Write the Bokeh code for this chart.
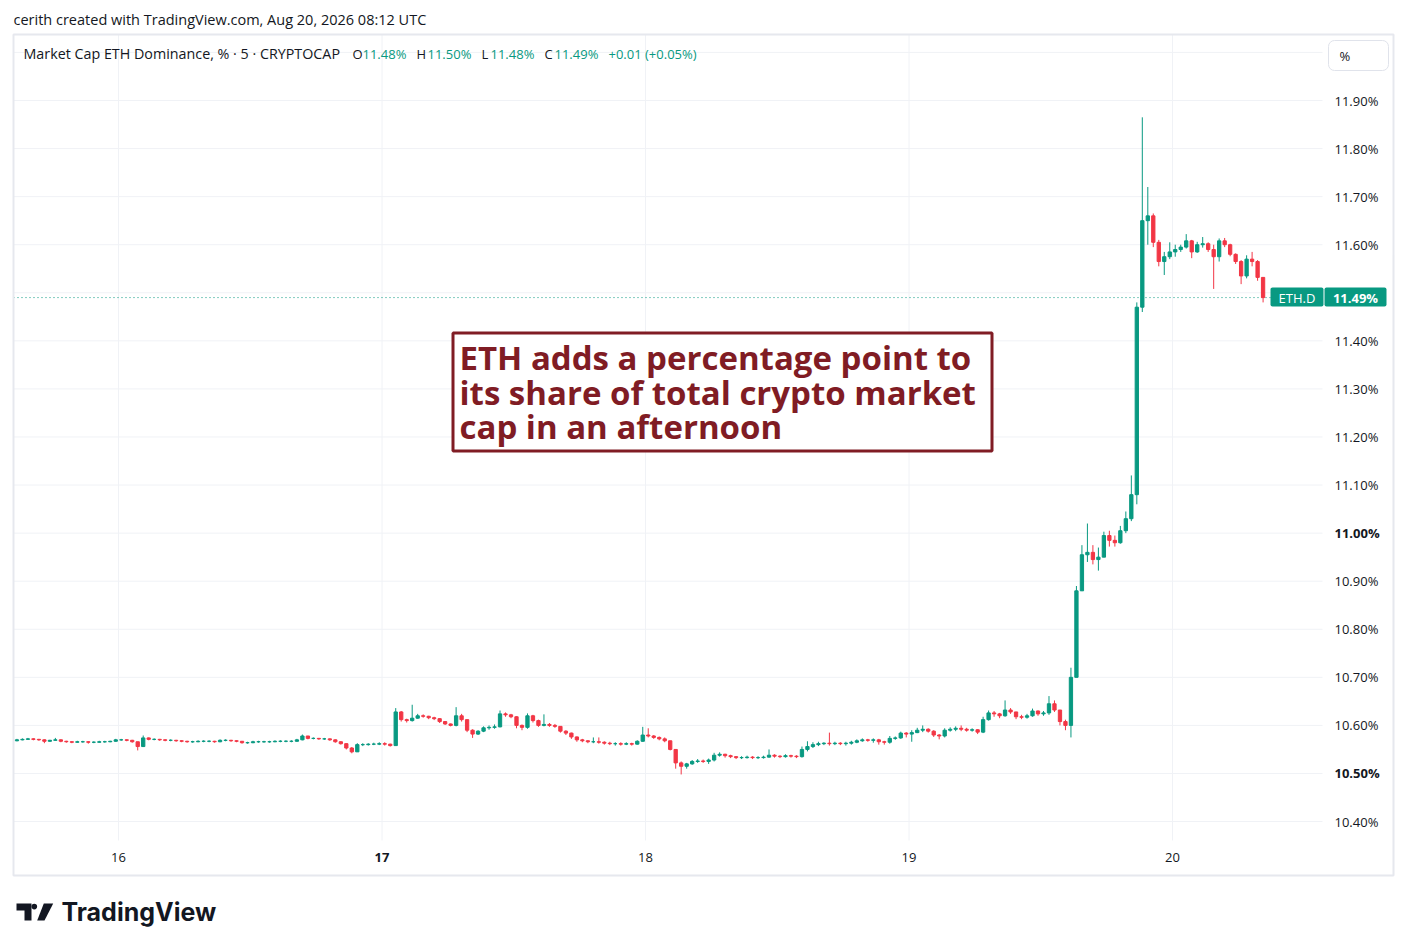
from bokeh.plotting import figure
from bokeh.models import (FixedTicker, Label, BoxAnnotation, PolyAnnotation, LinearAxis,
                          ColumnDataSource, PrintfTickFormatter, Range1d)
from bokeh.embed import file_html
from bokeh.resources import INLINE

# ---------------- data (30-minute candles) ----------------
START_DAY = 15          # August 15
START_HOUR = 14.5       # first candle 14:30 UTC
SLOT_HOURS = 0.5
first_open = 10.568

close_15 = [10.570, 10.571, 10.572, 10.571, 10.570, 10.567, 10.569, 10.570, 10.567, 10.566, 10.565,
            10.566, 10.566, 10.565, 10.565, 10.566, 10.566, 10.567, 10.570]
high_15 = [10.572, 10.573, 10.574, 10.573, 10.572, 10.571, 10.570, 10.574, 10.571, 10.568, 10.567,
           10.568, 10.568, 10.567, 10.567, 10.568, 10.568, 10.568, 10.572]
low_15 = [10.567, 10.569, 10.570, 10.569, 10.568, 10.563, 10.566, 10.568, 10.565, 10.564, 10.563,
          10.564, 10.564, 10.562, 10.563, 10.564, 10.564, 10.565, 10.566]

close_16 = [10.570, 10.569, 10.566, 10.556, 10.574, 10.571, 10.571, 10.570, 10.569, 10.569, 10.568, 10.567,
            10.566, 10.566, 10.567, 10.567, 10.567, 10.566, 10.569, 10.569, 10.568, 10.567, 10.564, 10.564,
            10.566, 10.566, 10.566, 10.566, 10.567, 10.567, 10.567, 10.567, 10.570, 10.578, 10.573, 10.573,
            10.572, 10.572, 10.570, 10.566, 10.562, 10.553, 10.545, 10.560, 10.560, 10.561, 10.561, 10.562]
high_16 = [10.572, 10.571, 10.570, 10.566, 10.579, 10.575, 10.573, 10.572, 10.571, 10.571, 10.570, 10.569,
           10.568, 10.568, 10.569, 10.569, 10.569, 10.568, 10.571, 10.571, 10.570, 10.569, 10.567, 10.566,
           10.568, 10.568, 10.568, 10.568, 10.569, 10.569, 10.569, 10.569, 10.572, 10.581, 10.578, 10.575,
           10.574, 10.574, 10.573, 10.571, 10.567, 10.563, 10.555, 10.563, 10.563, 10.563, 10.564, 10.565]
low_16 = [10.568, 10.567, 10.564, 10.548, 10.555, 10.569, 10.569, 10.568, 10.567, 10.567, 10.566, 10.565,
          10.564, 10.564, 10.565, 10.565, 10.565, 10.564, 10.565, 10.567, 10.566, 10.565, 10.562, 10.562,
          10.563, 10.564, 10.564, 10.564, 10.565, 10.565, 10.565, 10.565, 10.566, 10.569, 10.571, 10.571,
          10.570, 10.570, 10.568, 10.564, 10.560, 10.550, 10.542, 10.545, 10.557, 10.558, 10.559, 10.559]

close_17 = [10.561, 10.558, 10.628, 10.612, 10.610, 10.615, 10.620, 10.619, 10.616, 10.614, 10.608, 10.603,
            10.600, 10.620, 10.612, 10.590, 10.582, 10.588, 10.595, 10.596, 10.597, 10.624, 10.622, 10.618,
            10.600, 10.596, 10.620, 10.610, 10.600, 10.602, 10.600, 10.598, 10.588, 10.584, 10.576, 10.570,
            10.568, 10.566, 10.566, 10.565, 10.563, 10.562, 10.562, 10.561, 10.562, 10.561, 10.567, 10.580]
high_17 = [10.565, 10.562, 10.636, 10.630, 10.614, 10.643, 10.624, 10.623, 10.620, 10.618, 10.615, 10.609,
           10.604, 10.638, 10.624, 10.612, 10.592, 10.590, 10.598, 10.600, 10.602, 10.631, 10.627, 10.624,
           10.619, 10.602, 10.625, 10.622, 10.612, 10.623, 10.605, 10.603, 10.598, 10.590, 10.585, 10.577,
           10.572, 10.569, 10.575, 10.575, 10.567, 10.566, 10.565, 10.565, 10.565, 10.564, 10.569, 10.597]
low_17 = [10.558, 10.556, 10.558, 10.608, 10.606, 10.608, 10.614, 10.616, 10.613, 10.611, 10.605, 10.601,
          10.598, 10.598, 10.608, 10.586, 10.574, 10.580, 10.586, 10.591, 10.593, 10.596, 10.618, 10.615,
          10.594, 10.590, 10.593, 10.606, 10.597, 10.598, 10.597, 10.595, 10.585, 10.580, 10.572, 10.566,
          10.565, 10.563, 10.563, 10.562, 10.560, 10.559, 10.558, 10.558, 10.559, 10.558, 10.560, 10.566]

close_18 = [10.578, 10.575, 10.572, 10.568, 10.550, 10.522, 10.515, 10.520, 10.525, 10.526, 10.525, 10.528,
            10.538, 10.540, 10.537, 10.535, 10.533, 10.533, 10.534, 10.533, 10.533, 10.534, 10.538, 10.536,
            10.535, 10.537, 10.536, 10.535, 10.550, 10.556, 10.560, 10.562, 10.563, 10.562, 10.563, 10.562,
            10.563, 10.565, 10.568, 10.570, 10.569, 10.570, 10.566, 10.565, 10.573, 10.574, 10.584, 10.582]
high_18 = [10.594, 10.580, 10.577, 10.575, 10.568, 10.550, 10.525, 10.522, 10.528, 10.530, 10.529, 10.531,
           10.543, 10.544, 10.541, 10.539, 10.536, 10.536, 10.537, 10.536, 10.536, 10.537, 10.550, 10.540,
           10.538, 10.540, 10.539, 10.538, 10.556, 10.567, 10.565, 10.566, 10.565, 10.585, 10.566, 10.565,
           10.566, 10.568, 10.571, 10.573, 10.572, 10.573, 10.572, 10.568, 10.578, 10.577, 10.587, 10.586]
low_18 = [10.575, 10.572, 10.569, 10.565, 10.548, 10.510, 10.498, 10.510, 10.518, 10.522, 10.522, 10.520,
          10.525, 10.535, 10.533, 10.532, 10.530, 10.530, 10.531, 10.530, 10.530, 10.531, 10.533, 10.533,
          10.532, 10.533, 10.533, 10.532, 10.533, 10.546, 10.553, 10.557, 10.559, 10.558, 10.559, 10.559,
          10.558, 10.560, 10.563, 10.566, 10.566, 10.564, 10.560, 10.560, 10.562, 10.570, 10.572, 10.575]

close_19 = [10.585, 10.590, 10.592, 10.588, 10.580, 10.578, 10.590, 10.592, 10.594, 10.592, 10.590, 10.591,
            10.586, 10.612, 10.626, 10.624, 10.620, 10.632, 10.628, 10.618, 10.617, 10.620, 10.630, 10.624,
            10.626, 10.645, 10.632, 10.608, 10.600, 10.700, 10.880, 10.955, 10.960, 10.945, 10.950, 10.995,
            10.985, 10.980, 11.005, 11.030, 11.080, 11.470, 11.650, 11.660, 11.605, 11.565, 11.575, 11.585]
high_19 = [10.590, 10.595, 10.600, 10.594, 10.590, 10.582, 10.594, 10.596, 10.598, 10.600, 10.595, 10.594,
           10.592, 10.618, 10.631, 10.630, 10.626, 10.652, 10.636, 10.628, 10.622, 10.624, 10.635, 10.631,
           10.630, 10.661, 10.652, 10.625, 10.612, 10.720, 10.890, 10.975, 11.020, 10.975, 10.970, 11.003,
           11.005, 10.995, 11.015, 11.045, 11.120, 11.480, 11.865, 11.720, 11.665, 11.610, 11.585, 11.605]
low_19 = [10.566, 10.584, 10.586, 10.585, 10.576, 10.571, 10.575, 10.587, 10.588, 10.588, 10.587, 10.587,
          10.582, 10.584, 10.610, 10.618, 10.615, 10.618, 10.624, 10.613, 10.613, 10.614, 10.618, 10.620,
          10.620, 10.622, 10.628, 10.600, 10.590, 10.575, 10.700, 10.880, 10.940, 10.935, 10.922, 10.950,
          10.972, 10.972, 10.978, 11.000, 11.025, 11.060, 11.460, 11.600, 11.595, 11.555, 11.537, 11.570]

close_20 = [11.590, 11.595, 11.608, 11.585, 11.600, 11.602, 11.590, 11.575, 11.608, 11.600, 11.580, 11.565,
            11.535, 11.570, 11.565, 11.532, 11.490]
high_20 = [11.600, 11.600, 11.622, 11.610, 11.606, 11.616, 11.605, 11.600, 11.613, 11.614, 11.602, 11.582,
           11.568, 11.578, 11.585, 11.568, 11.530]
low_20 = [11.575, 11.585, 11.592, 11.572, 11.583, 11.594, 11.585, 11.508, 11.565, 11.595, 11.576, 11.560,
          11.518, 11.530, 11.555, 11.525, 11.480]

day_ticks = [16, 17, 18, 19, 20]
bold_days = [17]
pct_ticks = [10.4, 10.5, 10.6, 10.7, 10.8, 10.9, 11.0, 11.1, 11.2, 11.3, 11.4, 11.5, 11.6, 11.7, 11.8, 11.9]
grid_pct_ticks = pct_ticks + [12.0]
bold_pct = [10.5, 11.0]
last_price = 11.49

title_text = "cerith created with TradingView.com, Aug 20, 2026 08:12 UTC"
header_parts = [("Market Cap ETH Dominance, % · 5 · CRYPTOCAP", "k"), ("O", "k"), ("11.48%", "g"),
                ("H", "k"), ("11.50%", "g"), ("L", "k"), ("11.48%", "g"), ("C", "k"), ("11.49%", "g"),
                ("+0.01 (+0.05%)", "g")]
header_x = [23, 352, 362, 416, 427, 481, 490, 544, 554, 608]
note_lines = ["ETH adds a percentage point to", "its share of total crypto market", "cap in an afternoon"]
symbol_tag = "ETH.D"
brand = "TradingView"

# ---------------- build series ----------------
closes = close_15 + close_16 + close_17 + close_18 + close_19 + close_20
highs_r = high_15 + high_16 + high_17 + high_18 + high_19 + high_20
lows_r = low_15 + low_16 + low_17 + low_18 + low_19 + low_20
opens = [first_open] + closes[:-1]
highs = [max(h, o, c) for h, o, c in zip(highs_r, opens, closes)]
lows = [min(l, o, c) for l, o, c in zip(lows_r, opens, closes)]
t = [START_DAY + (START_HOUR + SLOT_HOURS * (i + 0.5)) / 24.0 for i in range(len(closes))]

UP = "#089981"
DOWN = "#F23645"
TXT = "#131722"
GRID = "#f0f2f6"
colors = [UP if c >= o else DOWN for o, c in zip(opens, closes)]
src = ColumnDataSource(dict(t=t, h=highs, l=lows,
                            top=[max(o, c) for o, c in zip(opens, closes)],
                            bot=[min(o, c) for o, c in zip(opens, closes)],
                            color=colors))

# ---------------- layout calibration (canvas pixels) ----------------
W, H = 1398, 942
X_REF_PX, PX_PER_DAY = 118.0, 263.5      # day 16 at x=118
Y_REF_PX, PX_PER_PCT = 100.0, 480.7      # 11.90% at y=100


def px2x(px):
    return 16 + (px - X_REF_PX) / PX_PER_DAY


def px2y(py):
    return 11.90 - (py - Y_REF_PX) / PX_PER_PCT


PANE_L, PANE_R, PANE_T, PANE_B = 13, 1322, 34, 840      # price pane
BORDER_R, BORDER_B = 1393, 875                          # outer chart border

p = figure(width=W, height=H, output_backend="svg", toolbar_location=None, title=None,
           x_range=Range1d(px2x(0), px2x(W)), y_range=Range1d(px2y(H), px2y(0)),
           x_axis_location=None, y_axis_location=None,
           min_border_left=0, min_border_right=0, min_border_top=0, min_border_bottom=0,
           background_fill_color="white", border_fill_color="white", outline_line_color=None)
p.xgrid.visible = False
p.ygrid.visible = False

FONT = "Open Sans"
FS = "13px"


def style_axis(ax, bold=False):
    ax.axis_line_color = None
    ax.major_tick_line_color = None
    ax.minor_tick_line_color = None
    ax.major_tick_out = 0
    ax.major_tick_in = 0
    ax.major_label_text_font = FONT
    ax.major_label_text_font_size = FS
    ax.major_label_text_color = TXT
    if bold:
        ax.major_label_text_font_style = "bold"


# price axes (regular + bold round levels), fixed at the pane's right edge
for ticks, bold in (([v for v in pct_ticks if v not in bold_pct], False), (bold_pct, True)):
    ax = LinearAxis(ticker=FixedTicker(ticks=ticks), formatter=PrintfTickFormatter(format="%.2f%%"),
                    fixed_location=px2x(PANE_R), major_label_standoff=12)
    style_axis(ax, bold)
    p.add_layout(ax, "right")

# time axes (regular + bold), fixed at the pane's bottom edge
for ticks, bold in (([d for d in day_ticks if d not in bold_days], False), (bold_days, True)):
    ax = LinearAxis(ticker=FixedTicker(ticks=ticks), fixed_location=px2y(PANE_B), major_label_standoff=12)
    style_axis(ax, bold)
    p.add_layout(ax, "below")

# grid lines limited to the price pane
p.segment(x0=[px2x(PANE_L)] * len(grid_pct_ticks), y0=grid_pct_ticks,
          x1=[px2x(PANE_R)] * len(grid_pct_ticks), y1=grid_pct_ticks, line_color=GRID, line_width=1)
p.segment(x0=day_ticks, y0=[px2y(PANE_T)] * len(day_ticks),
          x1=day_ticks, y1=[px2y(PANE_B)] * len(day_ticks), line_color=GRID, line_width=1)

# last price dotted line
p.segment(x0=[px2x(PANE_L)], y0=[last_price], x1=[px2x(1270)], y1=[last_price],
          line_color=UP, line_dash="1 3", line_width=1)

# candles
p.segment(x0="t", y0="l", x1="t", y1="h", color="color", line_width=1, source=src)
p.vbar(x="t", width=0.6 * SLOT_HOURS / 24, top="top", bottom="bot", fill_color="color",
       line_color="color", line_width=1, source=src)

# outer chart border
p.add_layout(BoxAnnotation(left=px2x(PANE_L), right=px2x(BORDER_R), top=px2y(PANE_T), bottom=px2y(BORDER_B),
                           fill_alpha=0, line_color="#e6e8ee", line_alpha=1, line_width=2))

# title line
p.add_layout(Label(x=px2x(13), y=px2y(19), text=title_text, text_font=FONT, text_font_size="14.5px",
                   text_color=TXT, text_baseline="middle", text_align="left"))

# header legend
for k, ((txt, col), hx) in enumerate(zip(header_parts, header_x)):
    p.add_layout(Label(x=px2x(hx), y=px2y(53), text=txt, text_font=FONT,
                       text_font_size=("14.3px" if k == 0 else FS),
                       text_color=(UP if col == "g" else TXT), text_baseline="middle", text_align="left"))

# "%" button
p.add_layout(BoxAnnotation(left=px2x(1328), right=px2x(1388), top=px2y(40), bottom=px2y(70),
                           fill_color="white", fill_alpha=1, line_color="#e0e3eb", line_alpha=1,
                           line_width=1, border_radius=6))
p.add_layout(Label(x=px2x(1339), y=px2y(55), text="%", text_font=FONT, text_font_size=FS,
                   text_color=TXT, text_baseline="middle", text_align="left"))

# price tag
for lft, rgt in ((1270, 1323), (1324, 1386)):
    p.add_layout(BoxAnnotation(left=px2x(lft), right=px2x(rgt), top=px2y(287), bottom=px2y(306),
                               fill_color=UP, fill_alpha=1, line_color=None, border_radius=2))
p.add_layout(Label(x=px2x(1296.5), y=last_price, text=symbol_tag, text_font=FONT, text_font_size=FS,
                   text_color="white", text_baseline="middle", text_align="center"))
p.add_layout(Label(x=px2x(1355), y=last_price, text="%.2f%%" % last_price, text_font=FONT,
                   text_font_size=FS, text_font_style="bold", text_color="white",
                   text_baseline="middle", text_align="center"))

# annotation box
NOTE = "#801c24"
p.add_layout(BoxAnnotation(left=px2x(452.5), right=px2x(991.5), top=px2y(332.5), bottom=px2y(450.5),
                           fill_color="white", fill_alpha=1, line_color=NOTE, line_alpha=1, line_width=3))
for i, line in enumerate(note_lines):
    p.add_layout(Label(x=px2x(459), y=px2y(357 + 34.5 * i), text=line, text_font=FONT,
                       text_font_size="33px", text_font_style="bold", text_color=NOTE,
                       text_baseline="middle", text_align="left"))

# TradingView logo
LOGO = "#131722"
p.add_layout(PolyAnnotation(xs=[px2x(v) for v in (16, 31, 31, 24, 24, 16)],
                            ys=[px2y(v) for v in (903, 903, 920, 920, 910, 910)],
                            fill_color=LOGO, fill_alpha=1, line_color=None))
p.add_layout(BoxAnnotation(left=px2x(31), right=px2x(36.6), top=px2y(903.3), bottom=px2y(908.9),
                           fill_color=LOGO, fill_alpha=1, line_color=None, border_radius=3))
p.add_layout(PolyAnnotation(xs=[px2x(v) for v in (43.3, 52.7, 44, 36.7)],
                            ys=[px2y(v) for v in (903, 903, 920, 920)],
                            fill_color=LOGO, fill_alpha=1, line_color=None))
p.add_layout(Label(x=px2x(61), y=px2y(911.5), text=brand, text_font="Inter", text_font_size="25px",
                   text_font_style="bold", text_color=LOGO, text_baseline="middle", text_align="left"))

open("out.html", "w").write(file_html(p, INLINE))
